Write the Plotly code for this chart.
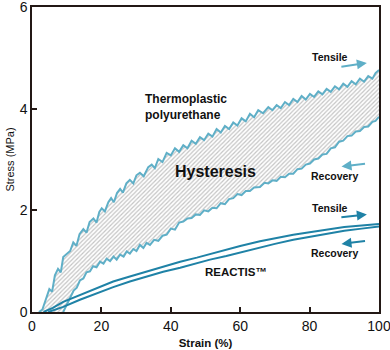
import plotly.graph_objects as go

# ---------------- data ----------------
tpu_tensile_strain = [2.0, 3.0, 4.0, 5.0, 5.8, 6.6, 7.5, 8.3, 9.0, 10.0, 11.0, 11.9, 12.8, 13.7,
                      14.8, 15.7, 16.6, 17.7, 18.6, 19.4, 20.1, 21.0, 22.0, 22.8, 23.6, 24.5,
                      25.4, 26.2, 27.2, 28.2, 29.2, 30.1, 31.1, 32.2, 33.5, 34.5, 35.4, 36.4,
                      37.6, 38.8, 40.0, 41.2, 42.4, 43.6, 44.8, 46.0, 47.2, 48.4, 49.6, 50.8,
                      52.0, 53.2, 54.4, 55.6, 56.8, 58.0, 59.2, 60.4, 61.6, 62.8, 64.0, 65.2,
                      66.6, 68.1, 69.3, 70.5, 71.7, 72.9, 74.1, 75.3, 76.5, 77.7, 78.9, 80.1,
                      81.3, 82.5, 83.7, 84.9, 86.1, 87.3, 88.5, 89.7, 90.9, 92.1, 93.3, 94.5,
                      95.7, 96.9, 98.1, 99.0, 100.0]
tpu_tensile_stress = [0.0, 0.05, 0.25, 0.45, 0.40, 0.72, 0.85, 0.78, 1.08, 1.15, 1.20, 1.37, 1.30, 1.53,
                      1.63, 1.56, 1.77, 1.84, 1.76, 1.97, 2.04, 1.98, 2.16, 2.24, 2.16, 2.34,
                      2.42, 2.35, 2.53, 2.60, 2.53, 2.69, 2.74, 2.67, 2.85, 2.90, 2.83, 3.01,
                      2.95, 3.13, 3.08, 3.22, 3.15, 3.28, 3.22, 3.37, 3.31, 3.44, 3.38, 3.51,
                      3.45, 3.60, 3.53, 3.66, 3.60, 3.73, 3.67, 3.81, 3.75, 3.90, 3.83, 3.97,
                      3.91, 4.03, 3.97, 4.07, 4.01, 4.13, 4.07, 4.19, 4.13, 4.25, 4.18, 4.29,
                      4.23, 4.34, 4.28, 4.39, 4.33, 4.44, 4.38, 4.49, 4.43, 4.54, 4.48, 4.59,
                      4.53, 4.64, 4.59, 4.70, 4.76]

tpu_recovery_strain = [9.0, 10.0, 11.0, 12.0, 12.9, 13.8, 14.8, 15.7, 16.7, 17.6, 18.6, 19.6, 20.6,
                       21.5, 22.5, 23.5, 24.4, 25.4, 26.4, 27.3, 28.2, 29.2, 30.1, 31.1, 32.1,
                       33.0, 34.0, 35.2, 36.4, 37.6, 38.8, 40.0, 41.2, 42.4, 43.6, 44.8, 46.0,
                       47.2, 48.4, 49.6, 50.8, 52.0, 53.2, 54.4, 55.6, 56.8, 58.0, 59.2, 60.4,
                       61.6, 62.8, 64.0, 65.7, 67.0, 68.1, 69.3, 70.5, 71.7, 72.9, 74.1, 75.3,
                       76.5, 77.7, 78.9, 80.1, 81.3, 82.5, 83.7, 84.9, 86.1, 87.3, 88.5, 89.7,
                       90.9, 92.1, 93.3, 94.5, 95.7, 96.9, 98.1, 99.0, 100.0]
tpu_recovery_stress = [0.0, 0.14, 0.28, 0.42, 0.48, 0.62, 0.66, 0.78, 0.80, 0.90, 0.88, 0.99, 0.95,
                       1.05, 1.00, 1.09, 1.03, 1.13, 1.09, 1.19, 1.15, 1.24, 1.20, 1.32, 1.26,
                       1.36, 1.32, 1.42, 1.40, 1.50, 1.52, 1.64, 1.62, 1.76, 1.78, 1.84, 1.85,
                       1.92, 1.91, 2.00, 1.98, 2.05, 2.04, 2.14, 2.12, 2.22, 2.24, 2.32, 2.30,
                       2.38, 2.38, 2.45, 2.46, 2.54, 2.53, 2.59, 2.58, 2.66, 2.65, 2.72, 2.72,
                       2.81, 2.82, 2.90, 2.92, 3.00, 3.02, 3.10, 3.11, 3.22, 3.24, 3.35, 3.37,
                       3.46, 3.47, 3.55, 3.56, 3.64, 3.65, 3.74, 3.76, 3.84]

reactis_tensile_strain = [3.3, 6.0, 9.0, 13.8, 18.6, 23.4, 28.2, 33.1, 37.8, 42.7, 47.5, 51.3,
                          56.0, 60.0, 65.7, 70.0, 75.3, 80.0, 84.9, 90.0, 95.0, 100.0]
reactis_tensile_stress = [0.0, 0.08, 0.20, 0.33, 0.47, 0.60, 0.70, 0.80, 0.89, 0.99, 1.07, 1.14,
                          1.22, 1.30, 1.39, 1.45, 1.52, 1.57, 1.62, 1.67, 1.70, 1.73]

reactis_recovery_strain = [4.7, 7.0, 9.0, 13.8, 18.6, 23.4, 28.2, 33.1, 37.8, 42.7, 47.5, 51.3,
                           56.0, 60.0, 65.7, 70.0, 75.3, 80.0, 84.9, 90.0, 95.0, 100.0]
reactis_recovery_stress = [0.0, 0.05, 0.10, 0.24, 0.37, 0.49, 0.60, 0.70, 0.79, 0.87, 0.96, 1.03,
                           1.10, 1.17, 1.27, 1.34, 1.42, 1.48, 1.54, 1.60, 1.64, 1.68]

x_ticks = [0, 20, 40, 60, 80, 100]
y_ticks = [0, 2, 4, 6]

# ---------------- styles ----------------
TPU_COLOR = "#5fafc7"
REACTIS_COLOR = "#1f82a6"
AXIS_COLOR = "#231815"
FONT = "Liberation Sans, Arial, Helvetica, sans-serif"

fig = go.Figure()

# hysteresis area (tensile forward, recovery backward)
fig.add_trace(go.Scatter(
    x=tpu_tensile_strain + tpu_recovery_strain[::-1],
    y=tpu_tensile_stress + tpu_recovery_stress[::-1],
    mode="none", fill="toself", fillcolor="rgba(0,0,0,0)",
    fillpattern=dict(shape="/", size=3, solidity=0.4, fgcolor="#8a8a8a", bgcolor="white"),
    hoverinfo="skip", showlegend=False))

for xs, ys, col in [(tpu_tensile_strain, tpu_tensile_stress, TPU_COLOR),
                    (tpu_recovery_strain, tpu_recovery_stress, TPU_COLOR),
                    (reactis_tensile_strain, reactis_tensile_stress, REACTIS_COLOR),
                    (reactis_recovery_strain, reactis_recovery_stress, REACTIS_COLOR)]:
    fig.add_trace(go.Scatter(x=xs, y=ys, mode="lines",
                             line=dict(color=col, width=2), showlegend=False))

# text labels
txt = dict(showarrow=False, font=dict(family=FONT, color="#111", size=10.5, weight="bold"))
fig.add_annotation(x=85.9, y=5.02, text="Tensile", **txt)
fig.add_annotation(x=87.3, y=2.68, text="Recovery", **txt)
fig.add_annotation(x=85.9, y=2.05, text="Tensile", **txt)
fig.add_annotation(x=87.3, y=1.16, text="Recovery", **txt)
fig.add_annotation(x=32.0, y=4.03, text="Thermoplastic<br>polyurethane", xanchor="left", align="left",
                   showarrow=False, font=dict(family=FONT, color="#111", size=12, weight="bold"))
fig.add_annotation(x=40.6, y=2.76, text="Hysteresis", xanchor="left", showarrow=False,
                   font=dict(family=FONT, color="#111", size=16, weight="bold"))
fig.add_annotation(x=49.3, y=0.79, text="REACTIS™", xanchor="left", showarrow=False,
                   font=dict(family=FONT, color="#111", size=11.5, weight="bold"))

# arrows
arr = dict(text="", showarrow=True, arrowhead=2, arrowsize=1, arrowwidth=2)
fig.add_annotation(x=96.5, y=4.90, ax=-27, ay=4, arrowcolor=TPU_COLOR, **arr)
fig.add_annotation(x=89.2, y=2.86, ax=25, ay=-3, arrowcolor=TPU_COLOR, **arr)
fig.add_annotation(x=96.5, y=1.92, ax=-27, ay=3, arrowcolor=REACTIS_COLOR, **arr)
fig.add_annotation(x=89.2, y=1.34, ax=25, ay=-3, arrowcolor=REACTIS_COLOR, **arr)

axis_common = dict(showgrid=False, zeroline=False, showline=True, linecolor=AXIS_COLOR,
                   linewidth=1.5, mirror=True, ticks="inside", ticklen=5, tickwidth=1.5,
                   tickcolor=AXIS_COLOR, tickfont=dict(family=FONT, size=14, color="#111"),
                   ticklabeloverflow="allow", automargin=False)

fig.update_xaxes(range=[0, 100], tickvals=x_ticks, ticktext=[str(v) for v in x_ticks],
                 title=dict(text="Strain (%)", standoff=6,
                            font=dict(family=FONT, size=11.5, color="#111", weight="bold")),
                 **axis_common)
fig.update_yaxes(range=[0, 6], tickvals=y_ticks, ticktext=[str(v) for v in y_ticks],
                 title=dict(text="Stress (MPa)", standoff=3,
                            font=dict(family=FONT, size=11, color="#111")),
                 **axis_common)

fig.update_layout(width=390, height=350, margin=dict(l=32, r=11, t=7, b=38),
                  plot_bgcolor="white", paper_bgcolor="white")

fig.write_html("out.html")
